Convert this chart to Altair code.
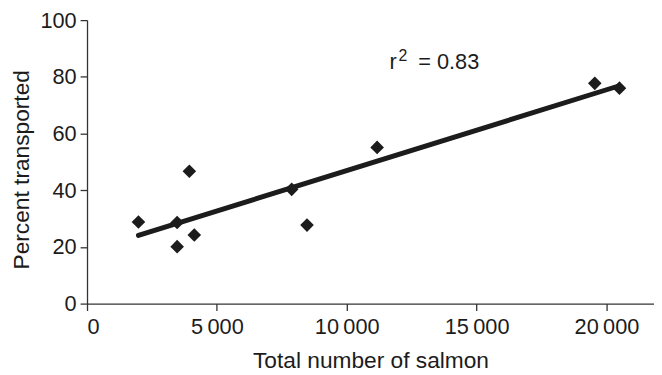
import altair as alt
import pandas as pd

salmon = [1980, 3470, 3470, 3940, 4130, 7880, 8470, 11170, 19550, 20500]
percent = [28.8, 28.6, 20.1, 46.7, 24.2, 40.3, 27.7, 55.1, 77.7, 76.0]
x_ticks = [0, 5000, 10000, 15000, 20000]
y_ticks = [0, 20, 40, 60, 80, 100]
annot_text = ["r", "2", "= 0.83"]

df = pd.DataFrame({"salmon": salmon, "percent": percent})
one = pd.DataFrame({"k": [0]})

FONT = "Liberation Sans"
INK = "#1c1c1c"

xs = alt.Scale(domain=[0, 21830], nice=False, zero=False)
ys = alt.Scale(domain=[0, 100], nice=False)

x_enc = alt.X(
    "salmon:Q", scale=xs,
    axis=alt.Axis(
        title="Total number of salmon", values=x_ticks,
        labelExpr="datum.value >= 10000 ? slice(toString(datum.value), 0, 2) + '\u2009' + slice(toString(datum.value), 2) : (datum.value >= 1000 ? slice(toString(datum.value), 0, 1) + '\u2009' + slice(toString(datum.value), 1) : toString(datum.value))",
        titleY=65, titleBaseline="alphabetic",
    ),
)
y_enc = alt.Y(
    "percent:Q", scale=ys,
    axis=alt.Axis(
        title="Percent transported", values=y_ticks,
        titleX=-59, titleY=151, titleBaseline="alphabetic", titleAngle=-90,
    ),
)

points = alt.Chart(df).mark_point(
    shape="diamond", filled=True, size=190, color=INK, opacity=1
).encode(x=x_enc, y=y_enc)

fit = alt.Chart(df).transform_regression(
    "salmon", "percent"
).mark_line(color=INK, strokeWidth=5, strokeCap="round").encode(
    x=alt.X("salmon:Q", scale=xs), y=alt.Y("percent:Q", scale=ys)
)

ax, ay = 11650, 82.9
r_txt = alt.Chart(one).mark_text(
    text=annot_text[0], font=FONT, fontSize=22, color=INK, align="left", baseline="alphabetic"
).encode(x=alt.datum(ax), y=alt.datum(ay))
sup_txt = alt.Chart(one).mark_text(
    text=annot_text[1], font=FONT, fontSize=16, color=INK, align="left", baseline="alphabetic", dx=9, dy=-8
).encode(x=alt.datum(ax), y=alt.datum(ay))
eq_txt = alt.Chart(one).mark_text(
    text=annot_text[2], font=FONT, fontSize=22, color=INK, align="left", baseline="alphabetic", dx=29
).encode(x=alt.datum(ax), y=alt.datum(ay))

chart = alt.layer(fit, points, r_txt, sup_txt, eq_txt).properties(
    width=574, height=287,
    autosize=alt.AutoSizeParams(type="none"),
    padding={"left": 80, "top": 10, "right": 0, "bottom": 70},
).configure_view(stroke=None).configure_axis(
    grid=False, domainColor="#333333", domainWidth=1.3, tickColor="#333333",
    tickWidth=1.3, tickSize=7, labelFont=FONT, labelFontSize=22, labelColor=INK,
    titleFont=FONT, titleFontSize=23, titleColor=INK, titleFontWeight="normal",
    labelPadding=6,
).configure_axisY(labelPadding=4)

chart.save("out.html", embed_options={"renderer": "svg", "actions": False})
